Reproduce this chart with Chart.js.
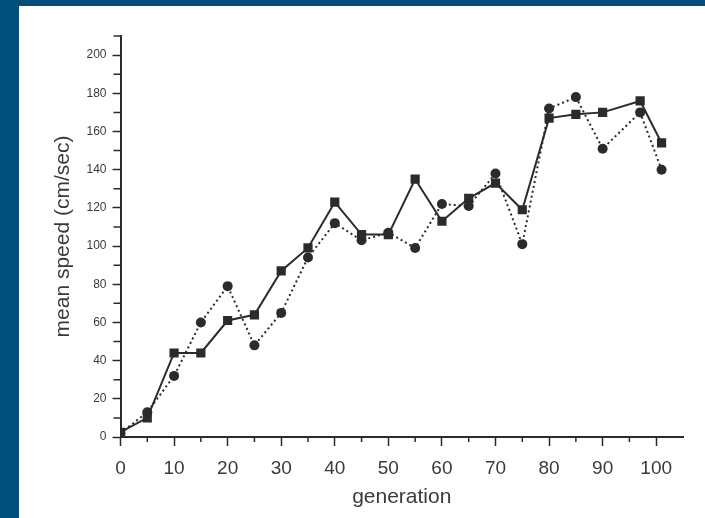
<!DOCTYPE html>
<html>
<head>
<meta charset="utf-8">
<script src="https://cdn.jsdelivr.net/npm/chart.js@4.4.1/dist/chart.umd.min.js"></script>
<style>
  html, body { margin: 0; padding: 0; background: #004e7a; overflow: hidden; }
  #wrap { position: absolute; left: 19px; top: 6px; width: 686px; height: 512px; background: #fff; }
</style>
</head>
<body>
<div id="wrap"><canvas id="chartSpeed"></canvas></div>
<script>
// generation vs mean speed
const generations = [0, 5, 10, 15, 20, 25, 30, 35, 40, 45, 50, 55, 60, 65, 70, 75, 80, 85, 90, 97, 101];
const speedSquares = [2.5, 10, 44, 44, 61, 64, 87, 99, 123, 106, 106, 135, 113, 125, 133, 119, 167, 169, 170, 176, 154];
const speedCircles = [2, 13, 32, 60, 79, 48, 65, 94, 112, 103, 107, 99, 122, 121, 138, 101, 172, 178, 151, 170, 140];

const xMinorTicks = [5, 15, 25, 35, 45, 55, 65, 75, 85, 95];
const yMinorTicks = [10, 30, 50, 70, 90, 110, 130, 150, 170, 190, 210];

const ink = '#2b2b2b';
const labelInk = '#3a3a3a';
const fontFamily = '"Liberation Sans", Arial, sans-serif';

const toPoints = (ys) => generations.map((g, i) => ({ x: g, y: ys[i] }));

// short unlabelled ticks between the labelled ones
const minorTicks = {
  id: 'minorTicks',
  afterDraw(chart) {
    const { ctx, scales: { x, y } } = chart;
    ctx.save();
    ctx.strokeStyle = ink;
    ctx.lineWidth = 1.5;
    ctx.beginPath();
    xMinorTicks.forEach(v => {
      const px = x.getPixelForValue(v);
      ctx.moveTo(px, x.top);
      ctx.lineTo(px, x.top + 5);
    });
    yMinorTicks.forEach(v => {
      const py = y.getPixelForValue(v);
      ctx.moveTo(y.right, py);
      ctx.lineTo(y.right - 7, py);
    });
    ctx.stroke();
    ctx.restore();
  }
};

const speedChart = new Chart(
  document.getElementById('chartSpeed'),
  {
    type: 'line',
    data: {
      datasets: [
        {
          label: 'squares',
          data: toPoints(speedSquares),
          borderColor: ink,
          backgroundColor: ink,
          borderWidth: 2,
          pointStyle: 'rect',
          pointRadius: 6.5,
          pointBorderWidth: 0,
          order: 0
        },
        {
          label: 'circles',
          data: toPoints(speedCircles),
          borderColor: ink,
          backgroundColor: ink,
          borderWidth: 2,
          borderDash: [2, 3],
          pointStyle: 'circle',
          pointRadius: 5,
          pointBorderWidth: 0,
          order: 1
        }
      ]
    },
    options: {
      responsive: true,
      maintainAspectRatio: false,
      animation: false,
      layout: {
        padding: { top: 30, right: 22, left: 0, bottom: 0 }
      },
      plugins: {
        legend: { display: false },
        tooltip: { enabled: false }
      },
      scales: {
        x: {
          type: 'linear',
          min: 0,
          max: 105,
          afterFit: (s) => { s.height = 81; },
          border: { color: ink, width: 2 },
          grid: {
            display: true,
            drawOnChartArea: false,
            tickLength: 9,
            tickColor: ink,
            tickWidth: 1.5
          },
          ticks: {
            stepSize: 10,
            includeBounds: false,
            padding: 11,
            color: labelInk,
            font: { family: fontFamily, size: 19 }
          },
          title: {
            display: true,
            text: 'generation',
            color: labelInk,
            padding: { top: 0, bottom: 8 },
            font: { family: fontFamily, size: 21 }
          }
        },
        y: {
          min: 0,
          max: 210,
          afterFit: (s) => { s.width = 101.5; },
          border: { color: ink, width: 2 },
          grid: {
            display: true,
            drawOnChartArea: false,
            tickLength: 8,
            tickColor: ink,
            tickWidth: 1.5
          },
          ticks: {
            stepSize: 20,
            includeBounds: false,
            padding: 6,
            color: labelInk,
            font: { family: fontFamily, size: 12 }
          },
          title: {
            display: true,
            text: 'mean speed (cm/sec)',
            color: labelInk,
            padding: { top: 32, bottom: 0 },
            font: { family: fontFamily, size: 21 }
          }
        }
      }
    },
    plugins: [minorTicks]
  });
</script>
</body>
</html>
